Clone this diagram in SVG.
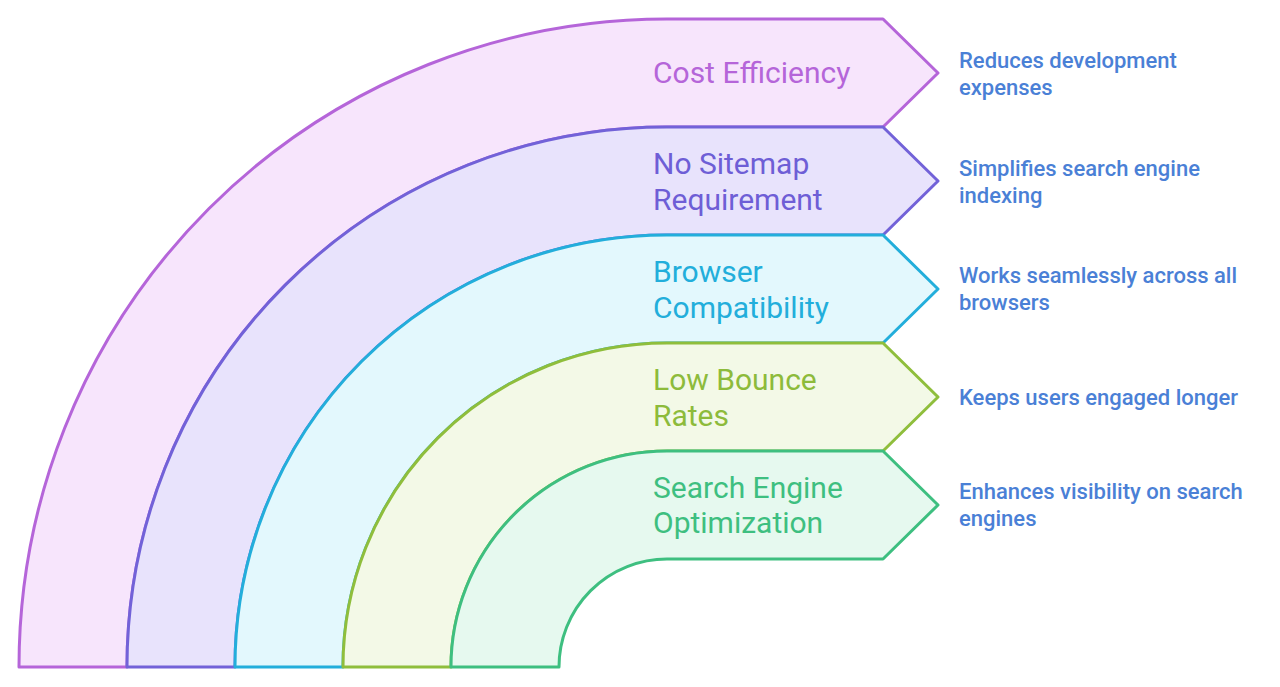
<svg xmlns="http://www.w3.org/2000/svg" width="1280" height="687" viewBox="0 0 1280 687">
<style>
.band{stroke-width:3;stroke-linejoin:round}
.lbl{font-family:Roboto,"Liberation Sans",sans-serif;font-size:30px;font-weight:400}
.desc{font-family:Roboto,"Liberation Sans",sans-serif;font-size:22px;font-weight:500;fill:#4A80D6}
</style>
<rect width="1280" height="687" fill="#FFFFFF"/>
<g id="cost-efficiency">
<path class="band" fill="#F7E5FC" stroke="#B565D9" d="M 19 667 A 648 648 0 0 1 667 19 L 883 19 L 938 73 L 883 127 L 667 127 A 540 540 0 0 0 127 667 Z"/>
<text class="lbl" x="653" y="83" fill="#B565D9">Cost Efficiency</text>
<text class="desc" x="959" y="68">Reduces development</text>
<text class="desc" x="959" y="95">expenses</text>
</g>
<g id="no-sitemap">
<path class="band" fill="#E8E3FC" stroke="#7262D8" d="M 127 667 A 540 540 0 0 1 667 127 L 883 127 L 938 181 L 883 235 L 667 235 A 432 432 0 0 0 235 667 Z"/>
<text class="lbl" x="653" y="174" fill="#6E5ED6">No Sitemap</text>
<text class="lbl" x="653" y="210" fill="#6E5ED6">Requirement</text>
<text class="desc" x="959" y="176">Simplifies search engine</text>
<text class="desc" x="959" y="203">indexing</text>
</g>
<g id="browser-compatibility">
<path class="band" fill="#E3F8FD" stroke="#23AEDB" d="M 235 667 A 432 432 0 0 1 667 235 L 883 235 L 938 289 L 883 343 L 667 343 A 324 324 0 0 0 343 667 Z"/>
<text class="lbl" x="653" y="282" fill="#22AEDB">Browser</text>
<text class="lbl" x="653" y="318" fill="#22AEDB">Compatibility</text>
<text class="desc" x="959" y="283">Works seamlessly across all</text>
<text class="desc" x="959" y="310">browsers</text>
</g>
<g id="low-bounce-rates">
<path class="band" fill="#F3F9E7" stroke="#8FBE3C" d="M 343 667 A 324 324 0 0 1 667 343 L 883 343 L 938 397 L 883 451 L 667 451 A 216 216 0 0 0 451 667 Z"/>
<text class="lbl" x="653" y="390" fill="#8DBB3B">Low Bounce</text>
<text class="lbl" x="653" y="426" fill="#8DBB3B">Rates</text>
<text class="desc" x="959" y="405">Keeps users engaged longer</text>
</g>
<g id="seo">
<path class="band" fill="#E6F9EF" stroke="#3EBF80" d="M 451 667 A 216 216 0 0 1 667 451 L 883 451 L 938 505 L 883 559 L 667 559 A 108 108 0 0 0 559 667 Z"/>
<text class="lbl" x="653" y="498" fill="#3EBF80">Search Engine</text>
<text class="lbl" x="653" y="533" fill="#3EBF80">Optimization</text>
<text class="desc" x="959" y="499">Enhances visibility on search</text>
<text class="desc" x="959" y="526">engines</text>
</g>
<g id="connectors"></g>
</svg>
